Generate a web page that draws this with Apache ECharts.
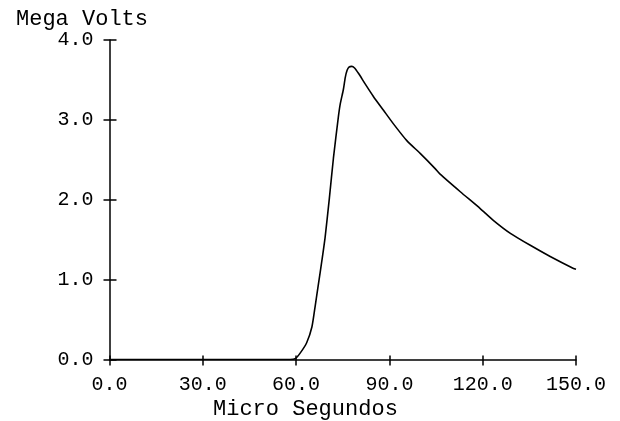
<!DOCTYPE html>
<html>
<head>
<meta charset="utf-8">
<script src="https://cdn.jsdelivr.net/npm/echarts@6/dist/echarts.min.js"></script>
<style>html,body{margin:0;padding:0;background:#fff}#c{width:620px;height:421px}</style>
</head>
<body>
<div id="c"></div>
<script>
var timeUs = [0, 30, 58.1, 59.7, 61.3, 63.4, 65.1, 66.1, 67.2, 68.3, 69.3, 70.7, 72.0, 73.6, 74.2, 75.2, 75.8, 76.4, 77.0, 77.9, 78.8, 80.1, 82.2, 84.9, 88.1, 91.3, 95.6, 99.9, 104.7, 106.3, 112.8, 119.2, 123.5, 128.9, 135.3, 141.7, 149.2, 150];
var megaVolts = [0, 0, 0, 0.01, 0.08, 0.21, 0.41, 0.66, 0.95, 1.24, 1.52, 2.02, 2.52, 3.04, 3.20, 3.38, 3.53, 3.62, 3.66, 3.67, 3.65, 3.58, 3.45, 3.29, 3.12, 2.95, 2.74, 2.58, 2.39, 2.32, 2.10, 1.89, 1.74, 1.58, 1.43, 1.29, 1.14, 1.13];
var xTicks = [0, 30, 60, 90, 120, 150];
var yTicks = [0, 1, 2, 3, 4];
var xName = 'Micro Segundos';
var yName = 'Mega Volts';

var FONT = 'Liberation Mono';
var pts = timeUs.map(function (t, i) { return [t, megaVolts[i]]; });
var fmt = function (v) { return v.toFixed(1); };
var grid = { left: 109.5, right: 44, top: 40, bottom: 61.5 };
var lineStyle = { color: '#000', width: 1.5 };

var chart = echarts.init(document.getElementById('c'), null, { renderer: 'canvas' });
chart.setOption({
  backgroundColor: '#fff',
  animation: false,
  title: [
    { text: yName, left: 11, top: 3, textStyle: { fontFamily: FONT, fontSize: 22, fontWeight: 'normal', color: '#000' } },
    { text: xName, left: 208, top: 393, textStyle: { fontFamily: FONT, fontSize: 22, fontWeight: 'normal', color: '#000' } }
  ],
  grid: grid,
  xAxis: [
    {
      type: 'value', min: xTicks[0], max: xTicks[xTicks.length - 1], interval: 30,
      axisLine: { show: true, lineStyle: lineStyle },
      axisTick: { show: true, length: 6, lineStyle: lineStyle },
      axisLabel: { formatter: fmt, fontFamily: FONT, fontSize: 20, color: '#000', margin: 15 },
      splitLine: { show: false }
    },
    {
      type: 'value', position: 'bottom', min: xTicks[0], max: xTicks[xTicks.length - 1], interval: 30,
      axisLine: { show: false },
      axisTick: { show: true, inside: true, length: 4, lineStyle: lineStyle },
      axisLabel: { show: false },
      splitLine: { show: false }
    }
  ],
  yAxis: [
    {
      type: 'value', min: yTicks[0], max: yTicks[yTicks.length - 1], interval: 1,
      axisLine: { show: true, lineStyle: lineStyle },
      axisTick: { show: true, length: 6, lineStyle: lineStyle },
      axisLabel: { formatter: fmt, fontFamily: FONT, fontSize: 20, color: '#000', margin: 16 },
      splitLine: { show: false }
    },
    {
      type: 'value', position: 'left', min: yTicks[0], max: yTicks[yTicks.length - 1], interval: 1,
      axisLine: { show: false },
      axisTick: { show: true, inside: true, length: 7, lineStyle: lineStyle },
      axisLabel: { show: false },
      splitLine: { show: false }
    }
  ],
  series: [{
    type: 'line',
    xAxisIndex: 0, yAxisIndex: 0,
    data: pts,
    showSymbol: false,
    smooth: 0.2,
    lineStyle: { color: '#000', width: 1.6 }
  }]
});
</script>
</body>
</html>
